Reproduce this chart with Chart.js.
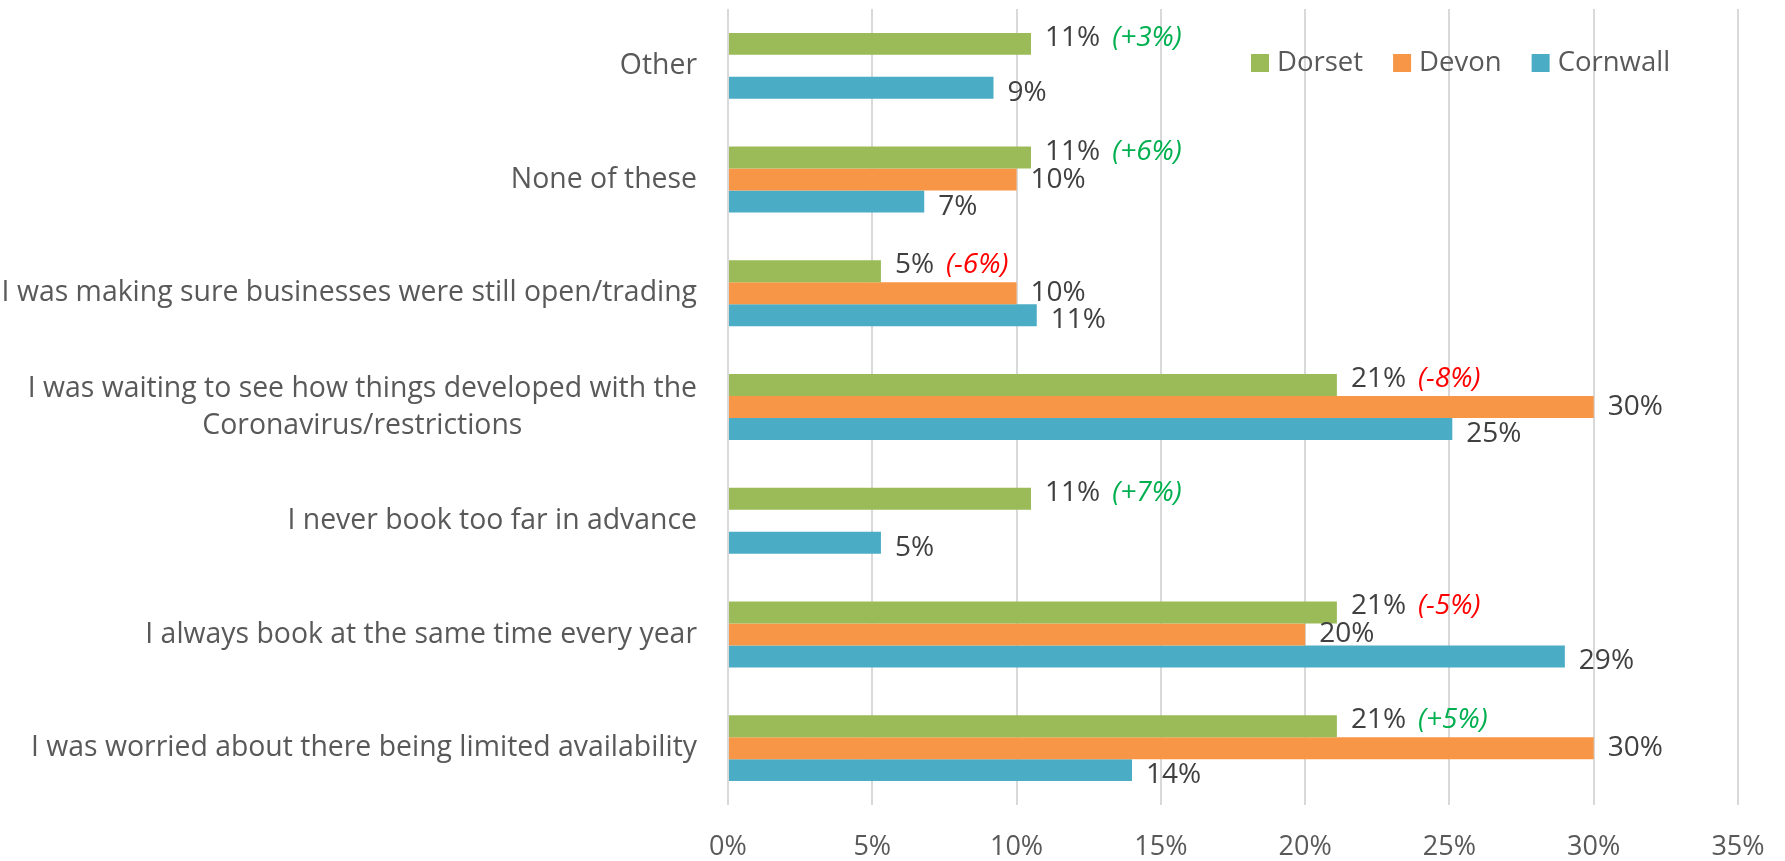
<!DOCTYPE html>
<html>
<head>
<meta charset="utf-8">
<script src="https://cdn.jsdelivr.net/npm/chart.js@4.4.1/dist/chart.umd.min.js"></script>
<style>
  body { margin: 0; background: #fff; }
  canvas { display: block; }
</style>
</head>
<body>
<canvas id="chart" width="1785" height="861"></canvas>
<script>
// Categories, top to bottom
const categories = [
    'Other',
    'None of these',
    'I was making sure businesses were still open/trading',
    ['I was waiting to see how things developed with the', 'Coronavirus/restrictions'],
    'I never book too far in advance',
    'I always book at the same time every year',
    'I was worried about there being limited availability'
];
const seriesNames = ['Dorset', 'Devon', 'Cornwall'];
const dorset = [10.5, 10.5, 5.3, 21.1, 10.5, 21.1, 21.1];
const devon = [null, 10, 10, 30, null, 20, 30];
const cornwall = [9.2, 6.8, 10.7, 25.1, 5.3, 29, 14];
// change vs previous wave, shown next to the Dorset labels
const dorsetChange = ['+3%', '+6%', '-6%', '-8%', '+7%', '-5%', '+5%'];
const xTicks = [0, 5, 10, 15, 20, 25, 30, 35];

const colors = ['#9BBB59', '#F79646', '#4BACC6'];
const FONT = "'Open Sans', 'Noto Sans', sans-serif";

// Category labels drawn by hand so the wrapped one can be centred line by line
const categoryLabels = {
    id: 'categoryLabels',
    afterDraw(chart) {
        const ctx = chart.ctx;
        const yScale = chart.scales.y;
        const right = chart.chartArea.left - 31;
        const lineH = 37;
        ctx.save();
        ctx.font = '28.4px ' + FONT;
        ctx.fillStyle = '#595959';
        ctx.textBaseline = 'middle';
        categories.forEach((label, i) => {
            const y = yScale.getPixelForValue(i);
            if (Array.isArray(label)) {
                const widest = Math.max(...label.map(l => ctx.measureText(l).width));
                const cx = right - widest / 2;
                ctx.textAlign = 'center';
                label.forEach((line, j) => {
                    ctx.fillText(line, cx, y + (j - (label.length - 1) / 2) * lineH);
                });
            } else {
                ctx.textAlign = 'right';
                ctx.fillText(label, right, y);
            }
        });
        ctx.restore();
    }
};

// Value labels at bar ends, plus the coloured change notes for Dorset
const valueLabels = {
    id: 'valueLabels',
    afterDatasetsDraw(chart) {
        const ctx = chart.ctx;
        const nudge = [-6, 0, 5];
        ctx.save();
        ctx.textBaseline = 'middle';
        ctx.textAlign = 'left';
        chart.data.datasets.forEach((ds, di) => {
            const meta = chart.getDatasetMeta(di);
            meta.data.forEach((bar, i) => {
                const v = ds.data[i];
                if (v === null) return;
                const text = Math.round(v) + '%';
                const x = bar.x + 14;
                const y = bar.y + nudge[di];
                ctx.font = '28px ' + FONT;
                ctx.fillStyle = '#404040';
                ctx.fillText(text, x, y);
                if (di === 0) {
                    const w = ctx.measureText(text).width;
                    const note = dorsetChange[i];
                    ctx.font = 'italic 28px ' + FONT;
                    ctx.fillStyle = note[0] === '+' ? '#00B050' : '#FF0000';
                    ctx.fillText('(' + note + ')', x + w + 12, y);
                }
            });
        });
        ctx.restore();
    }
};

// Legend floating inside the plot, top right
const floatingLegend = {
    id: 'floatingLegend',
    afterDraw(chart) {
        const ctx = chart.ctx;
        let x = chart.chartArea.right - 487;
        const y = 63;
        const box = 18;
        ctx.save();
        ctx.font = '27.5px ' + FONT;
        ctx.textBaseline = 'middle';
        ctx.textAlign = 'left';
        seriesNames.forEach((name, i) => {
            ctx.fillStyle = colors[i];
            ctx.fillRect(x, y - box / 2, box, box);
            x += box + 8;
            ctx.fillStyle = '#595959';
            ctx.fillText(name, x, y);
            x += ctx.measureText(name).width + 30;
        });
        ctx.restore();
    }
};

const seriesData = [dorset, devon, cornwall];

new Chart(document.getElementById('chart'), {
    type: 'bar',
    data: {
        labels: categories,
        datasets: seriesNames.map((name, i) => ({
            label: name,
            data: seriesData[i],
            backgroundColor: colors[i],
            borderWidth: 0,
            barPercentage: 1,
            categoryPercentage: 0.58
        }))
    },
    options: {
        indexAxis: 'y',
        responsive: false,
        animation: false,
        layout: {
            padding: { left: 728, right: 47, top: 9, bottom: 0 }
        },
        plugins: {
            legend: { display: false },
            tooltip: { enabled: false }
        },
        scales: {
            y: {
                display: false
            },
            x: {
                min: xTicks[0],
                max: xTicks[xTicks.length - 1],
                afterBuildTicks: scale => {
                    scale.ticks = xTicks.map(v => ({ value: v }));
                },
                afterFit: scale => {
                    scale.height = 56;
                },
                border: { display: false },
                grid: {
                    color: '#D9D9D9',
                    lineWidth: 2,
                    drawTicks: true,
                    tickLength: 26,
                    tickColor: 'rgba(0,0,0,0)'
                },
                ticks: {
                    padding: 0,
                    color: '#595959',
                    font: { family: FONT, size: 27 },
                    callback: v => v + '%'
                }
            }
        }
    },
    plugins: [categoryLabels, valueLabels, floatingLegend]
});
</script>
</body>
</html>
